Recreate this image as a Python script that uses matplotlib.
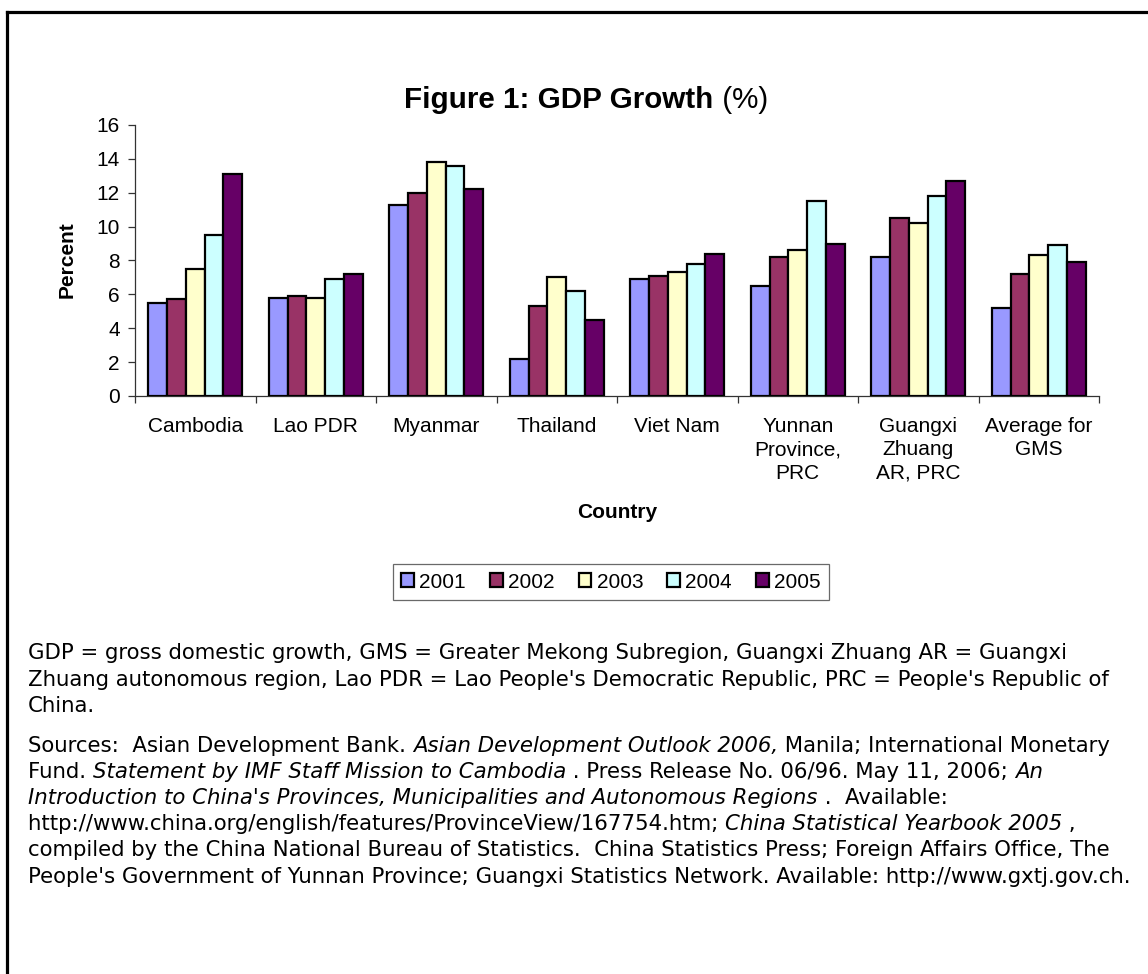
import numpy as np
import matplotlib
matplotlib.use("Agg")
import matplotlib.pyplot as plt
from matplotlib.font_manager import FontProperties
from matplotlib.lines import Line2D

plt.rcParams["font.family"] = ["Liberation Sans", "DejaVu Sans"]

W, H, DPI = 1148, 974, 100

countries = ["Cambodia", "Lao PDR", "Myanmar", "Thailand", "Viet Nam",
             "Yunnan\nProvince,\nPRC", "Guangxi\nZhuang\nAR, PRC", "Average for\nGMS"]
years = ["2001", "2002", "2003", "2004", "2005"]
g2001 = [5.5, 5.8, 11.3, 2.2, 6.9, 6.5, 8.2, 5.2]
g2002 = [5.7, 5.9, 12.0, 5.3, 7.1, 8.2, 10.5, 7.2]
g2003 = [7.5, 5.8, 13.8, 7.0, 7.3, 8.6, 10.2, 8.3]
g2004 = [9.5, 6.9, 13.6, 6.2, 7.8, 11.5, 11.8, 8.9]
g2005 = [13.1, 7.2, 12.2, 4.5, 8.4, 9.0, 12.7, 7.9]
colors = ["#9999FF", "#993366", "#FFFFCC", "#CCFFFF", "#660066"]

notes = [
    [("GDP = gross domestic growth, GMS = Greater Mekong Subregion, Guangxi Zhuang AR = Guangxi", "normal")],
    [("Zhuang autonomous region, Lao PDR = Lao People's Democratic Republic, PRC = People's Republic of", "normal")],
    [("China.", "normal")],
]
sources = [
    [("Sources:  Asian Development Bank. ", "normal"), ("Asian Development Outlook 2006,", "italic"),
     (" Manila; International Monetary", "normal")],
    [("Fund. ", "normal"), ("Statement by IMF Staff Mission to Cambodia", "italic"),
     (" . Press Release No. 06/96. May 11, 2006; ", "normal"), ("An", "italic")],
    [("Introduction to China's Provinces, Municipalities and Autonomous Regions", "italic"),
     (" .  Available:", "normal")],
    [("http://www.china.org/english/features/ProvinceView/167754.htm; ", "normal"),
     ("China Statistical Yearbook 2005", "italic"), (" ,", "normal")],
    [("compiled by the China National Bureau of Statistics.  China Statistics Press; Foreign Affairs Office, The", "normal")],
    [("People's Government of Yunnan Province; Guangxi Statistics Network. Available: http://www.gxtj.gov.ch.", "normal")],
]


def fx(px):
    return px / W


def fy(py):
    return 1 - py / H


fig = plt.figure(figsize=(W / DPI, H / DPI), dpi=DPI)
fig.patch.set_facecolor("white")

# frame round the whole page (open on the right and bottom)
fig.add_artist(Line2D([fx(7), fx(7)], [fy(12), fy(H + 5)], color="black", lw=2.3,
                      transform=fig.transFigure, solid_capstyle="projecting"))
fig.add_artist(Line2D([fx(7), fx(W + 5)], [fy(12), fy(12)], color="black", lw=2.3,
                      transform=fig.transFigure, solid_capstyle="projecting"))

ax = fig.add_axes([fx(135), fy(396), fx(1099) - fx(135), fy(125) - fy(396)])
x = np.arange(len(countries))
w = 0.156
series = [g2001, g2002, g2003, g2004, g2005]
for i, (vals, c, yr) in enumerate(zip(series, colors, years)):
    ax.bar(x + (i - 2) * w, vals, w, color=c, edgecolor="black", lw=1.6, label=yr, zorder=3)

ax.set_xlim(-0.5, len(countries) - 0.5)
ax.set_ylim(0, 16)
ax.set_yticks(np.arange(0, 17, 2))
ax.set_xticks(x)
ax.set_xticklabels(countries, fontsize=15, linespacing=1.3, va="top")
ax.set_xticks(np.arange(-0.5, len(countries), 1), minor=True)
ax.tick_params(axis="x", which="major", length=0, pad=15)
ax.tick_params(axis="x", which="minor", length=5, width=0.9, color="#333333", direction="out")
ax.tick_params(axis="y", length=5, width=0.9, color="#333333", direction="out", labelsize=15, pad=6)
for s in ["top", "right"]:
    ax.spines[s].set_visible(False)
for s in ["left", "bottom"]:
    ax.spines[s].set_color("#333333")
    ax.spines[s].set_linewidth(0.9)
ax.patch.set_alpha(0)

fig.text(fx(67), fy(260), "Percent", rotation=90, fontsize=15, fontweight="bold",
         ha="center", va="center")
fig.text(fx(617), fy(512), "Country", fontsize=15, fontweight="bold",
         ha="center", va="center")

leg = fig.legend(loc="center", bbox_to_anchor=(fx(611), fy(582)), ncol=5, fontsize=15,
                 handlelength=0.62, handleheight=0.62, handletextpad=0.25,
                 columnspacing=1.15, frameon=True, fancybox=False, borderpad=0.4,
                 borderaxespad=0)
leg.get_frame().set_edgecolor("#444444")
leg.get_frame().set_linewidth(0.9)
for p in leg.get_patches():
    p.set_linewidth(1.6)

renderer = fig.canvas.get_renderer()


def make_fp(style, size, family):
    weight, st = ("bold", "normal") if style == "bold" else ("normal", style)
    return FontProperties(family=family, size=size, style=st, weight=weight)


def seg_width(text, fp):
    full, _, _ = renderer.get_text_width_height_descent("|" + text + "|", fp, ismath=False)
    bars, _, _ = renderer.get_text_width_height_descent("||", fp, ismath=False)
    return full - bars


def draw_segments(x0, baseline, segs, size, family):
    xp = x0
    for text, style in segs:
        fp = make_fp(style, size, family)
        fig.text(fx(xp), fy(baseline), text, fontproperties=fp, ha="left", va="baseline")
        xp += seg_width(text, fp)


def segs_total(segs, size, family):
    return sum(seg_width(t, make_fp(s, size, family)) for t, s in segs)


arial = ["Liberation Sans", "DejaVu Sans"]
wide = ["DejaVu Sans"]

# title: bold caption with a plain "(%)"
title = [("Figure 1: GDP Growth", "bold"), (" (%)", "normal")]
tw = segs_total(title, 21.3, arial)
draw_segments(586 - tw / 2, 108, title, 21.3, arial)

y = 659
for line in notes:
    draw_segments(28, y, line, 15.3, wide)
    y += 26.5
y += 13
for line in sources:
    draw_segments(28, y, line, 15.3, wide)
    y += 26.2

fig.savefig("out.png", dpi=DPI)
